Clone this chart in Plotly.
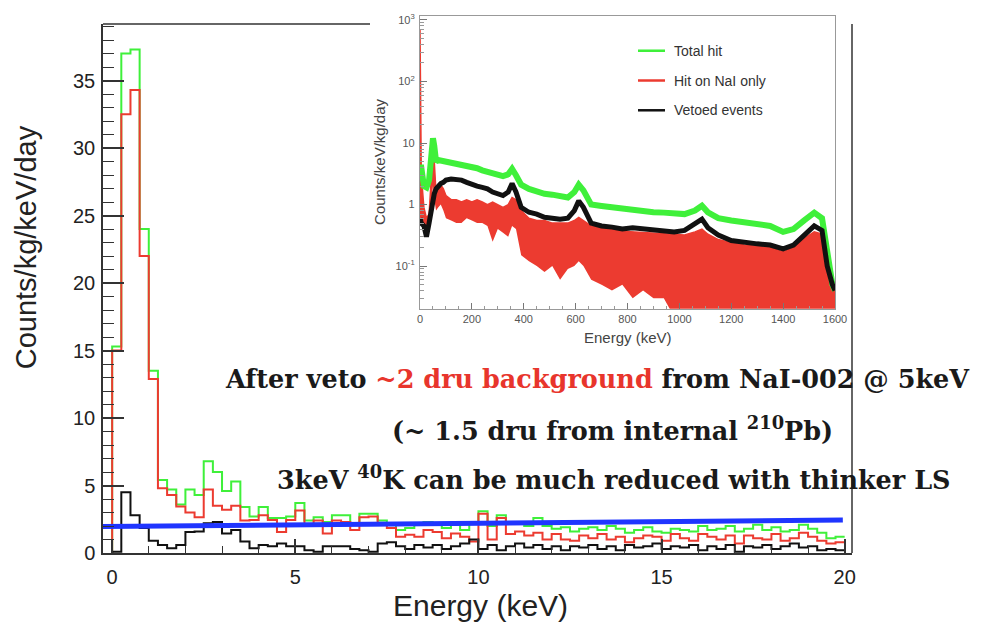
import numpy as np
import plotly.graph_objects as go

# ---------------- main histogram data (0.25 keV bins, 0-20 keV) ----------------
bin_edges = np.arange(0, 20.0001, 0.25)

total_hit = [15.3, 37.0, 37.3, 24.0, 13.5, 5.4, 4.7, 3.6, 4.7, 4.3,
             6.8, 6.0, 4.6, 5.3, 3.4, 2.7, 3.4, 2.6, 2.6, 2.7,
             3.7, 2.4, 2.65, 2.3, 2.8, 2.8, 2.2, 2.9, 2.9, 2.4,
             2.2, 1.7, 1.85, 2.1, 2.3, 2.2, 1.85, 2.1, 1.7, 2.2,
             3.1, 2.0, 2.8, 2.2, 2.3, 2.0, 2.6, 2.0, 1.8, 1.9,
             1.6, 1.8, 1.9, 1.7, 2.0, 1.8, 1.5, 1.7, 1.9, 1.6,
             1.5, 1.8, 1.7, 1.6, 2.0, 1.7, 1.8, 2.0, 1.6, 1.8,
             2.1, 1.7, 1.9, 1.6, 1.7, 2.1, 1.8, 1.5, 1.1, 1.2]

nai_only = [15.0, 32.5, 34.3, 22.0, 12.9, 4.8, 4.3, 3.45, 3.0, 2.65,
            4.7, 3.5, 3.2, 3.5, 2.4, 2.45, 2.8, 2.45, 1.55, 2.45,
            3.15, 2.05, 2.4, 1.45, 2.4, 2.3, 1.7, 2.65, 2.7, 2.2,
            1.85, 1.2, 1.35, 1.2, 1.7, 1.55, 1.1, 1.45, 1.2, 0.85,
            2.9, 1.0, 2.6, 1.4, 1.6, 1.3, 1.5, 1.0, 1.4, 1.0,
            0.9, 1.3, 1.1, 1.4, 1.0, 1.2, 0.8, 1.1, 1.3, 1.2,
            0.9, 1.4, 1.1, 0.9, 1.4, 1.2, 1.0, 1.3, 0.7, 1.3,
            1.1, 1.0, 1.4, 0.9, 1.1, 1.5, 1.2, 0.9, 0.7, 0.8]

vetoed = [0.1, 4.5, 2.8, 1.85, 0.9, 0.6, 0.35, 0.6, 1.55, 1.6,
          2.2, 2.3, 1.45, 1.7, 0.85, 0.35, 0.6, 0.5, 0.7, 0.5,
          0.5, 0.2, 0.1, 0.5, 0.5, 0.5, 0.3, 0.2, 0.1, 0.7,
          0.8, 0.5, 0.3, 0.6, 0.4, 0.6, 0.3, 0.5, 0.7, 1.0,
          0.3, 0.6, 0.2, 0.5, 0.7, 0.4, 0.6, 0.3, 0.5, 0.2,
          0.5, 0.4, 0.6, 0.3, 0.5, 0.2, 0.6, 0.4, 0.5, 0.7,
          0.3, 0.5, 0.4, 0.6, 0.2, 0.5, 0.3, 0.6, 0.1, 0.5,
          0.4, 0.6, 0.3, 0.5, 0.7, 0.4, 0.5, 0.2, 0.3, 0.2]

# blue "~2 dru" reference line
blue_x = [-0.25, 19.95]
blue_y = [1.96, 2.45]

# ---------------- inset data (0-1600 keV, log scale) ----------------
inset_e = [0, 5, 15, 25, 35, 45, 50, 55, 62, 70, 80, 90, 100, 120, 140, 160, 180, 200,
           220, 240, 260, 280, 300, 320, 340, 355, 370, 390, 420, 450, 480, 510, 540, 570,
           595, 612, 630, 660, 700, 740, 780, 820, 860, 900, 940, 980, 1020, 1060, 1087,
           1110, 1150, 1200, 1250, 1300, 1350, 1400, 1440, 1480, 1520, 1550, 1570, 1590, 1600]
inset_total = [4.0, 4.0, 2.0, 1.9, 2.5, 8, 12, 9, 5.0, 5.3, 5.2, 5.0, 5.0, 4.8, 4.6, 4.4, 4.2, 4.0,
               3.9, 3.6, 3.4, 3.2, 3.0, 2.9, 3.1, 3.8, 3.0, 2.1, 1.8, 1.6, 1.5, 1.45, 1.35, 1.3,
               1.6, 2.1, 1.7, 1.0, 0.95, 0.9, 0.85, 0.8, 0.78, 0.75, 0.74, 0.72, 0.7, 0.8, 0.96,
               0.75, 0.6, 0.55, 0.52, 0.5, 0.45, 0.36, 0.4, 0.55, 0.74, 0.6, 0.15, 0.05, 0.04]
inset_vetoed = [0.6, 0.5, 0.45, 0.3, 0.5, 0.9, 1.2, 1.5, 1.8, 2.0, 2.2, 2.3, 2.5, 2.6, 2.6, 2.5, 2.3, 2.1,
                2.0, 1.9, 1.8, 1.6, 1.5, 1.4, 1.6, 2.2, 1.6, 0.9, 0.75, 0.7, 0.62, 0.6, 0.58, 0.6,
                0.8, 1.15, 0.9, 0.5, 0.45, 0.43, 0.4, 0.42, 0.4, 0.38, 0.37, 0.36, 0.38, 0.48, 0.58,
                0.42, 0.32, 0.26, 0.24, 0.23, 0.22, 0.19, 0.22, 0.32, 0.45, 0.38, 0.1, 0.05, 0.04]
inset_nai_hi = [700, 3.0, 0.9, 0.6, 0.7, 4.0, 7.4, 5.0, 1.5, 2.0, 2.1, 1.8, 1.4, 1.2, 1.2, 1.1, 1.2, 1.1,
                1.2, 1.1, 1.0, 1.1, 1.0, 0.9, 1.0, 1.3, 1.2, 0.8, 0.6, 0.55, 0.55, 0.5, 0.5, 0.5,
                0.55, 0.62, 0.55, 0.45, 0.42, 0.4, 0.37, 0.36, 0.35, 0.34, 0.33, 0.33, 0.32, 0.36, 0.4,
                0.33, 0.27, 0.24, 0.22, 0.21, 0.2, 0.17, 0.2, 0.28, 0.36, 0.33, 0.1, 0.06, 0.05]
inset_nai_lo = [0.5, 0.5, 0.4, 0.35, 0.4, 1.0, 2.0, 1.2, 0.8, 0.9, 1.0, 0.8, 0.6, 0.55, 0.5, 0.5, 0.6, 0.55,
                0.5, 0.5, 0.45, 0.25, 0.4, 0.35, 0.3, 0.45, 0.4, 0.15, 0.12, 0.1, 0.08, 0.1, 0.06, 0.09,
                0.1, 0.12, 0.1, 0.06, 0.05, 0.04, 0.05, 0.03, 0.04, 0.03, 0.03, 0.015, 0.015, 0.015, 0.015,
                0.015, 0.015, 0.015, 0.015, 0.015, 0.015, 0.015, 0.015, 0.015, 0.015, 0.015, 0.015, 0.015, 0.015]

# ---------------- colours ----------------
GREEN = "#3ff03a"
RED = "#ec3b30"
BLACK = "#111111"
BLUE = "#1f35ff"

W, H = 998, 622
ML, MR, MT, MB = 103, 146, 10, 69
PW, PH = W - ML - MR, H - MT - MB


def px(x):
    return (x - ML) / PW


def py(y):
    return (H - MB - y) / PH


fig = go.Figure()

# main histograms (step outlines)
hx = [0.0] + list(bin_edges)
for vals, col in [(total_hit, GREEN), (nai_only, RED), (vetoed, BLACK)]:
    fig.add_trace(go.Scatter(x=hx, y=[0.0] + list(vals) + [vals[-1]], mode="lines",
                             line=dict(color=col, width=2, shape="hv"),
                             xaxis="x", yaxis="y", showlegend=False, hoverinfo="skip"))

fig.add_trace(go.Scatter(x=blue_x, y=blue_y, mode="lines", line=dict(color=BLUE, width=5),
                         xaxis="x", yaxis="y", showlegend=False, hoverinfo="skip"))

# inset traces
fig.add_trace(go.Scatter(x=inset_e, y=inset_nai_lo, mode="lines", line=dict(color=RED, width=0),
                         xaxis="x2", yaxis="y2", showlegend=False, hoverinfo="skip"))
fig.add_trace(go.Scatter(x=inset_e, y=inset_nai_hi, mode="lines", line=dict(color=RED, width=1.5),
                         fill="tonexty", fillcolor=RED,
                         xaxis="x2", yaxis="y2", showlegend=False, hoverinfo="skip"))
fig.add_trace(go.Scatter(x=inset_e, y=inset_total, mode="lines", line=dict(color=GREEN, width=6),
                         xaxis="x2", yaxis="y2", showlegend=False, hoverinfo="skip"))
fig.add_trace(go.Scatter(x=inset_e, y=inset_vetoed, mode="lines", line=dict(color=BLACK, width=5),
                         xaxis="x2", yaxis="y2", showlegend=False, hoverinfo="skip"))

AX = "#333333"
main_top = py(20)

fig.update_layout(
    width=W, height=H,
    margin=dict(l=ML, r=MR, t=MT, b=MB),
    paper_bgcolor="white", plot_bgcolor="rgba(0,0,0,0)",
    showlegend=False,
    xaxis=dict(domain=[0, 1], range=[-0.25, 20.2], showgrid=False, zeroline=False,
               showline=True, linecolor=AX, linewidth=1.5,
               ticks="inside", ticklen=14, tickwidth=1.5, tickcolor=AX,
               tick0=0, dtick=5,
               minor=dict(ticks="inside", ticklen=7, tickwidth=1, tickcolor=AX, dtick=1, showgrid=False),
               tickfont=dict(family="Liberation Sans", size=20, color="#222"),
               ticklabelstandoff=5),
    yaxis=dict(domain=[0, main_top], range=[0, 39.2], showgrid=False, zeroline=False,
               showline=True, linecolor=AX, linewidth=1.5,
               ticks="inside", ticklen=21, tickwidth=1.5, tickcolor=AX,
               tick0=0, dtick=5,
               minor=dict(ticks="inside", ticklen=11, tickwidth=1, tickcolor=AX, dtick=1, showgrid=False),
               tickfont=dict(family="Liberation Sans", size=20, color="#222"),
               ticklabelstandoff=2),
    xaxis2=dict(domain=[px(420), px(835)], range=[0, 1600], anchor="y2",
                showgrid=False, zeroline=False, showline=True, mirror=True,
                linecolor="#999999", linewidth=1.2,
                ticks="inside", ticklen=6, tickcolor="#777", dtick=200, tick0=0,
                minor=dict(ticks="inside", ticklen=3, tickcolor="#999", dtick=50),
                tickfont=dict(family="Liberation Sans", size=11, color="#555")),
    yaxis2=dict(domain=[py(307), py(12)], type="log", range=[-1.694, 3.065], anchor="x2",
                showgrid=False, zeroline=False, showline=True, mirror=True,
                linecolor="#999999", linewidth=1.2,
                ticks="inside", ticklen=7, tickcolor="#777",
                tickvals=[0.1, 1, 10, 100, 1000],
                ticktext=["10<sup>-1</sup>", "1", "10", "10<sup>2</sup>", "10<sup>3</sup>"],
                minor=dict(ticks="inside", ticklen=4, tickcolor="#999", dtick="D1", showgrid=False),
                tickfont=dict(family="Liberation Sans", size=11, color="#555"),
                ticklabelstandoff=2),
)

# main frame: top (partially hidden by the inset picture) and right side
fig.add_shape(type="line", xref="paper", yref="paper", x0=0, x1=px(370), y0=main_top, y1=main_top,
              line=dict(color=AX, width=1.5))
fig.add_shape(type="line", xref="paper", yref="paper", x0=1, x1=1, y0=0, y1=main_top,
              line=dict(color=AX, width=1.5))

# inset legend
legend_items = [("Total hit", GREEN, 47), ("Hit on NaI only", RED, 77), ("Vetoed events", BLACK, 107)]
for label, col, yy in legend_items:
    fig.add_shape(type="line", xref="paper", yref="paper", x0=px(638), x1=px(665), y0=py(yy), y1=py(yy),
                  line=dict(color=col, width=2.5))
    fig.add_annotation(xref="paper", yref="paper", x=px(672), y=py(yy), text=label, showarrow=False,
                       xanchor="left", yanchor="middle",
                       font=dict(family="Liberation Sans", size=14, color="#333"))

# axis titles
fig.add_annotation(xref="paper", yref="paper", x=px(480), y=py(606), text="Energy (keV)", showarrow=False,
                   xanchor="center", yanchor="middle", font=dict(family="Liberation Sans", size=30, color="#222"))
fig.add_annotation(xref="paper", yref="paper", x=px(26), y=py(245), text="Counts/kg/keV/day", showarrow=False,
                   textangle=-90, xanchor="center", yanchor="middle",
                   font=dict(family="Liberation Sans", size=29, color="#222"))
fig.add_annotation(xref="paper", yref="paper", x=px(628), y=py(336), text="Energy (keV)", showarrow=False,
                   xanchor="center", yanchor="middle", font=dict(family="Liberation Sans", size=15, color="#444"))
fig.add_annotation(xref="paper", yref="paper", x=px(380), y=py(159), text="Counts/keV/kg/day", showarrow=False,
                   textangle=-90, xanchor="center", yanchor="middle",
                   font=dict(family="Liberation Sans", size=15, color="#444"))

# slide text
SERIF = dict(family="DejaVu Serif", size=25.5, color="#1a1a1a", weight="bold")
fig.add_annotation(xref="paper", yref="paper", x=px(597), y=py(378),
                   text="After veto <span style='color:#e8352c'>~2 dru background</span> from NaI-002 @ 5keV",
                   showarrow=False, xanchor="center", yanchor="middle", font=SERIF)
fig.add_annotation(xref="paper", yref="paper", x=px(612), y=py(428),
                   text="(~ 1.5 dru from internal <sup>210</sup>Pb)",
                   showarrow=False, xanchor="center", yanchor="middle", font=SERIF)
fig.add_annotation(xref="paper", yref="paper", x=px(613), y=py(477),
                   text="3keV <sup>40</sup>K can be much reduced with thinker LS",
                   showarrow=False, xanchor="center", yanchor="middle", font=SERIF)

fig.write_html("out.html")
